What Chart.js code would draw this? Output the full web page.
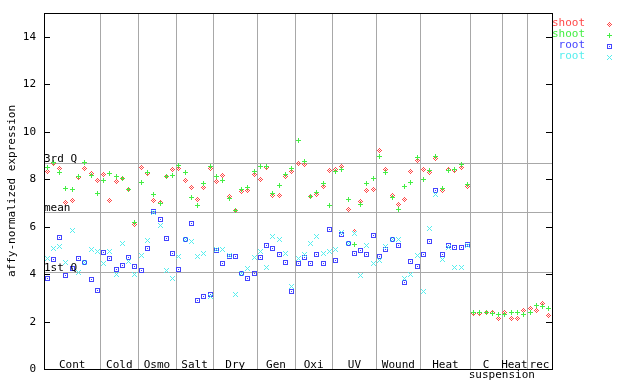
<!DOCTYPE html>
<html>
<head>
<meta charset="utf-8">
<script src="https://cdn.jsdelivr.net/npm/chart.js@4"></script>
<style>
  html, body { margin: 0; padding: 0; background: #fff; }
  canvas { display: block; }
</style>
</head>
<body>
<canvas id="exprChart" width="640" height="384"></canvas>
<script>
// sample groups along the bottom, and how many samples sit in each
const groupNames = ["Cont", "Cold", "Osmo", "Salt", "Dry", "Gen", "Oxi", "UV", "Wound", "Heat", "C", "Heat", "rec"];
const groupSizes = [9, 6, 6, 6, 7, 6, 6, 7, 7, 8, 5, 4, 4];
const subLabel = "suspension";
const subLabelAt = 73; // sample boundary it is centred on

const yTicks = [0, 2, 4, 6, 8, 10, 12, 14];
const refNames = ["3rd Q", "mean", "1st Q"];
const refValues = [8.69, 6.62, 4.09];

const seriesNames = ["shoot", "shoot", "root", "root"];

// shoot, replicate 1 (red diamonds)
const shootA = [
  8.34, 8.66, 8.45, 7.00, 7.09, 8.08, 8.45, 8.23, 7.93,
  8.19, 7.09, 7.89, 8.02, 7.55, 6.09,
  8.48, 8.23, 7.09, 7.00, 8.10, 8.40,
  8.45, 7.93, 7.64, 7.13, 7.64, 8.45,
  7.89, 8.14, 7.26, 6.67, 7.47, 7.51, 8.19,
  7.97, 8.48, 7.30, 7.30, 8.10, 8.31,
  8.65, 8.61, 7.26, 7.34, 7.68, 8.35,
  8.40, 8.52, 6.71, 5.78, 7.05, 7.51, 7.55,
  9.20, 8.40, 7.30, 6.92, 7.13, 8.31, 8.78,
  8.40, 8.27, 8.86, 7.51, 8.40, 8.35, 8.48, 7.68,
  2.32, 2.32, 2.36, 2.40, 2.11,
  2.40, 2.11, 2.11, 2.45,
  2.57, 2.45, 2.74, 2.24
];
// shoot, replicate 2 (green plus)
const shootB = [
  8.48, 8.70, 8.27, 7.59, 7.55, 8.10, 8.69, 8.14, 7.38,
  7.93, 8.23, 8.10, 8.02, 7.55, 6.17,
  7.85, 8.27, 7.34, 6.96, 8.10, 8.14,
  8.57, 8.27, 7.22, 6.88, 7.81, 8.55,
  8.10, 7.93, 7.17, 6.67, 7.55, 7.64, 8.31,
  8.52, 8.52, 7.38, 7.72, 8.19, 8.44,
  9.62, 8.73, 7.26, 7.43, 7.81, 6.88,
  8.31, 8.40, 7.13, 5.23, 6.92, 7.81, 8.02,
  8.95, 8.27, 7.22, 6.73, 7.68, 7.85, 8.90,
  7.97, 8.35, 8.95, 7.59, 8.35, 8.40, 8.61, 7.76,
  2.36, 2.40, 2.40, 2.32, 2.28,
  2.28, 2.36, 2.40, 2.28,
  2.36, 2.66, 2.62, 2.57
];
// root, replicate 1 (blue squares) - no root samples in the last three groups
const rootA = [
  3.80, 4.61, 5.53, 3.94, 4.23, 4.64, 4.49, 3.77, 3.30,
  4.89, 4.64, 4.18, 4.35, 4.70, 4.32,
  4.14, 5.06, 6.62, 6.29, 5.49, 4.85,
  4.18, 5.44, 6.12, 2.87, 3.04, 3.16,
  5.00, 4.43, 4.75, 4.73, 4.01, 3.80, 4.01,
  4.68, 5.19, 5.06, 4.81, 4.47, 3.25,
  4.43, 4.68, 4.43, 4.81, 4.43, 5.86,
  4.56, 5.65, 5.27, 4.85, 4.98, 4.81, 5.61,
  4.73, 5.02, 5.44, 5.19, 3.63, 4.51, 4.30,
  4.81, 5.36, 7.51, 4.81, 5.19, 5.11, 5.11, 5.23,
  null, null, null, null, null,
  null, null, null, null,
  null, null, null, null
];
// root, replicate 2 (cyan crosses)
const rootB = [
  4.64, 5.06, 5.15, 4.49, 5.82, 4.05, 4.49, 5.02, 4.94,
  4.43, 4.94, 3.97, 5.27, 4.51, 3.97,
  4.77, 5.40, 6.60, 6.03, 4.14, 3.80,
  4.73, 5.44, 5.36, 4.73, 4.85, 3.04,
  5.02, 5.02, 4.77, 3.16, 4.01, 4.22, 4.68,
  4.94, 4.26, 5.57, 5.44, 4.85, 3.46,
  4.64, 4.81, 5.27, 5.57, 4.85, 4.94,
  5.02, 5.74, 5.27, 5.70, 3.92, 5.19, 4.43,
  4.56, 5.15, 5.44, 5.44, 3.80, 3.97, 4.77,
  3.25, 5.91, 7.34, 4.60, 5.11, 4.26, 4.26, 5.20,
  null, null, null, null, null,
  null, null, null, null,
  null, null, null, null
];

const FONT = "11px 'DejaVu Sans Mono', monospace";
const GRID = "#a8a8a8";
const colors = ["#ff4848", "#44ee44", "#4444ff", "#55eeee"];

// tiny pixel markers, 5x5
function marker(color, test) {
  const c = document.createElement("canvas");
  c.width = 5; c.height = 5;
  const g = c.getContext("2d");
  g.fillStyle = color;
  for (let dy = -2; dy <= 2; dy++) {
    for (let dx = -2; dx <= 2; dx++) {
      if (test(dx, dy)) g.fillRect(dx + 2, dy + 2, 1, 1);
    }
  }
  return c;
}
const markers = [
  marker(colors[0], (dx, dy) => Math.abs(dx) + Math.abs(dy) <= 2 && (dx + dy) % 2 === 0),
  marker(colors[1], (dx, dy) => dx === 0 || dy === 0),
  marker(colors[2], (dx, dy) => Math.max(Math.abs(dx), Math.abs(dy)) === 2 || (dx === 0 && dy === 0)),
  marker(colors[3], (dx, dy) => Math.abs(dx) === Math.abs(dy))
];

const toPoints = (vals) => vals.map((v, i) => ({ x: i + 0.5, y: v }));
const totalSamples = groupSizes.reduce((a, b) => a + b, 0);

const decorPlugin = {
  id: "decor",
  beforeDatasetsDraw(chart) {
    const { ctx, chartArea: a, scales } = chart;
    const xs = scales.x, ys = scales.y;
    ctx.save();
    ctx.strokeStyle = GRID;
    ctx.lineWidth = 1;
    ctx.beginPath();
    let acc = 0;
    for (let g = 0; g < groupSizes.length - 1; g++) {
      acc += groupSizes[g];
      const px = Math.round(xs.getPixelForValue(acc)) + 0.5;
      ctx.moveTo(px, a.top);
      ctx.lineTo(px, a.bottom);
    }
    refValues.forEach((v) => {
      const py = Math.round(ys.getPixelForValue(v)) + 0.5;
      ctx.moveTo(a.left, py);
      ctx.lineTo(a.right, py);
    });
    ctx.stroke();
    ctx.restore();
    ctx.imageSmoothingEnabled = false;
  },
  afterDatasetsDraw(chart) {
    const { ctx, chartArea: a, scales } = chart;
    const xs = scales.x, ys = scales.y;
    ctx.save();
    ctx.imageSmoothingEnabled = false;

    // frame
    ctx.strokeStyle = "#000";
    ctx.lineWidth = 1;
    ctx.strokeRect(a.left + 0.5, a.top + 0.5, a.right - a.left, a.bottom - a.top);

    // inside ticks on both sides + left labels
    ctx.font = FONT;
    ctx.fillStyle = "#000";
    ctx.textAlign = "right";
    ctx.textBaseline = "middle";
    ctx.beginPath();
    yTicks.forEach((t) => {
      const py = Math.round(ys.getPixelForValue(t)) + 0.5;
      ctx.moveTo(a.left, py); ctx.lineTo(a.left + 6, py);
      ctx.moveTo(a.right - 6, py); ctx.lineTo(a.right, py);
      ctx.fillText(String(t), a.left - 8, py);
    });
    ctx.stroke();

    // axis title
    ctx.save();
    ctx.translate(12, (a.top + a.bottom) / 2);
    ctx.rotate(-Math.PI / 2);
    ctx.textAlign = "center";
    ctx.fillText("affy-normalized expression", 0, 0);
    ctx.restore();

    // group names inside the bottom of the plot
    ctx.textAlign = "center";
    ctx.textBaseline = "alphabetic";
    let start = 0;
    groupNames.forEach((name, g) => {
      const cx = xs.getPixelForValue(start + groupSizes[g] / 2);
      ctx.fillText(name, cx, a.bottom - 1.5);
      start += groupSizes[g];
    });
    ctx.fillText(subLabel, xs.getPixelForValue(subLabelAt), a.bottom + 9);

    // quantile labels
    ctx.textAlign = "left";
    refNames.forEach((name, k) => {
      const py = Math.round(ys.getPixelForValue(refValues[k]));
      ctx.fillText(name, a.left, py - 1);
    });

    // legend
    ctx.textAlign = "right";
    ctx.textBaseline = "middle";
    seriesNames.forEach((name, k) => {
      const py = a.top + 10.5 + k * 11;
      ctx.fillStyle = colors[k];
      ctx.fillText(name, a.right + 33, py);
      ctx.drawImage(markers[k], a.right + 55, Math.round(py) - 2);
    });
    ctx.restore();
  }
};

const series = [shootA, shootB, rootA, rootB];

new Chart(document.getElementById("exprChart"), {
  type: "scatter",
  data: {
    datasets: series.map((vals, k) => ({
      label: seriesNames[k],
      data: toPoints(vals),
      pointStyle: markers[k],
      pointRadius: 3,
      pointHoverRadius: 3,
      order: 4 - k
    }))
  },
  options: {
    responsive: false,
    animation: false,
    devicePixelRatio: 1,
    events: [],
    layout: { padding: { left: 44, top: 13, right: 88, bottom: 15 } },
    plugins: { legend: { display: false }, tooltip: { enabled: false } },
    scales: {
      x: { type: "linear", min: 0, max: totalSamples, display: false },
      y: { type: "linear", min: 0, max: 15, display: false }
    }
  },
  plugins: [decorPlugin]
});
</script>
</body>
</html>
